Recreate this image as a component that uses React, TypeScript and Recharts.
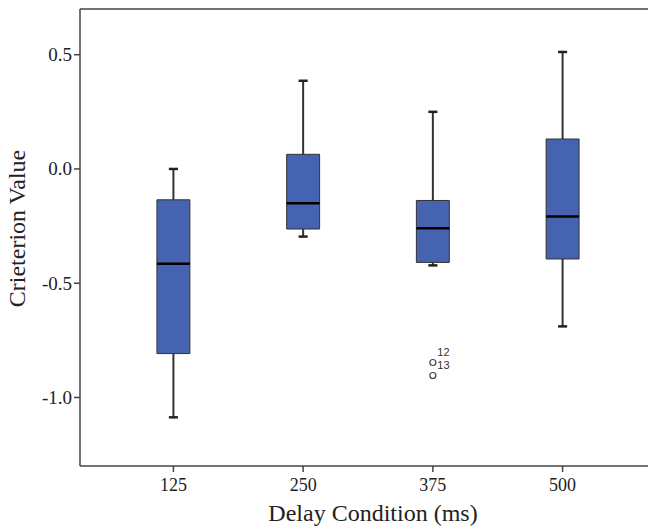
import React from 'react';
import {
  ComposedChart, XAxis, YAxis, Scatter, ReferenceArea, ReferenceLine, Label,
} from 'recharts';

const categories = ['125', '250', '375', '500'];
const whiskerLow = [-1.087, -0.296, -0.422, -0.689];
const q1 = [-0.808, -0.263, -0.409, -0.394];
const median = [-0.415, -0.15, -0.259, -0.208];
const q3 = [-0.135, 0.064, -0.138, 0.131];
const whiskerHigh = [0.0, 0.386, 0.25, 0.512];

const outlierGroup = [2, 2];
const outlierValues = [-0.847, -0.904];
const outlierLabels = ['12', '13'];

const yTicks = [-1.0, -0.5, 0.0, 0.5];

const boxData = categories.map((c, i) => ({ idx: i, name: c }));
const outlierData = outlierValues.map((v, i) => ({ idx: outlierGroup[i], v, label: outlierLabels[i] }));

const FONT = 'Times New Roman, Liberation Serif, DejaVu Serif, serif';
const BOX_HALF = 0.127;
const CAP_HALF = 0.035;
const X_DOMAIN: [number, number] = [-0.72, 3.72];
const Y_DOMAIN: [number, number] = [-1.3, 0.7];

const OutlierShape = (props: any) => {
  const { cx, cy, payload } = props;
  if (cx == null || cy == null) return null;
  const dy = payload.label === '12' ? -6 : -7;
  return (
    <g>
      <circle cx={cx} cy={cy} r={3} fill="#fff" stroke="#444" strokeWidth={1.2} />
      <text x={cx + 4.5} y={cy + dy} fontSize={11} style={{ fontFamily: 'Liberation Sans, Arial, sans-serif' }} fill="#333">
        {payload.label}
      </text>
    </g>
  );
};

const XTick = (props: any) => {
  const { x, y, payload } = props;
  return (
    <text x={x} y={y + 12} textAnchor="middle" fontSize={18} style={{ fontFamily: FONT }} fill="#222">
      {categories[payload.value]}
    </text>
  );
};

const YTick = (props: any) => {
  const { x, y, payload } = props;
  return (
    <text x={x} y={y + 6.5} textAnchor="end" fontSize={19} style={{ fontFamily: FONT }} fill="#222">
      {Number(payload.value).toFixed(1)}
    </text>
  );
};

export default function App() {
  return (
    <div style={{ position: 'fixed', left: 0, top: 0, width: 648, height: 529, overflow: 'hidden', background: '#fff', fontFamily: FONT }}>
      <ComposedChart width={660} height={529} data={boxData} margin={{ top: 9, right: 4, left: 0, bottom: 0 }} style={{ fontFamily: FONT }}>
        <XAxis
          type="number"
          dataKey="idx"
          domain={X_DOMAIN}
          ticks={[0, 1, 2, 3]}
          allowDataOverflow
          height={63}
          tickSize={6}
          tickMargin={7}
          stroke="#444"
          strokeWidth={1.5}
          tick={<XTick />}
        >
          <Label
            content={(p: any) => {
              const vb = p.viewBox;
              return (
                <text x={vb.x + vb.width / 2 + 5} y={521} textAnchor="middle" fontSize={24} style={{ fontFamily: FONT }} fill="#222">
                  Delay Condition (ms)
                </text>
              );
            }}
          />
        </XAxis>
        <YAxis
          type="number"
          domain={Y_DOMAIN}
          ticks={yTicks}
          allowDataOverflow
          width={80}
          tickSize={6}
          tickMargin={2}
          stroke="#444"
          strokeWidth={1.5}
          tick={<YTick />}
        >
          <Label
            content={(p: any) => {
              const vb = p.viewBox;
              const cx = 25;
              const cy = vb.y + vb.height / 2 - 9;
              return (
                <text x={cx} y={cy} textAnchor="middle" fontSize={24} style={{ fontFamily: FONT }} fill="#222" transform={`rotate(-90, ${cx}, ${cy})`}>
                  Crieterion Value
                </text>
              );
            }}
          />
        </YAxis>

        <ReferenceLine segment={[{ x: X_DOMAIN[0], y: Y_DOMAIN[1] }, { x: X_DOMAIN[1], y: Y_DOMAIN[1] }]} stroke="#444" strokeWidth={1.5} ifOverflow="visible" />

        {categories.map((c, i) => (
          <ReferenceLine key={`wh${c}`} segment={[{ x: i, y: q3[i] }, { x: i, y: whiskerHigh[i] }]} stroke="#333" strokeWidth={2} ifOverflow="visible" />
        ))}
        {categories.map((c, i) => (
          <ReferenceLine key={`wl${c}`} segment={[{ x: i, y: q1[i] }, { x: i, y: whiskerLow[i] }]} stroke="#333" strokeWidth={2} ifOverflow="visible" />
        ))}
        {categories.map((c, i) => (
          <ReferenceLine key={`ch${c}`} segment={[{ x: i - CAP_HALF, y: whiskerHigh[i] }, { x: i + CAP_HALF, y: whiskerHigh[i] }]} stroke="#222" strokeWidth={2.5} ifOverflow="visible" />
        ))}
        {categories.map((c, i) => (
          <ReferenceLine key={`cl${c}`} segment={[{ x: i - CAP_HALF, y: whiskerLow[i] }, { x: i + CAP_HALF, y: whiskerLow[i] }]} stroke="#222" strokeWidth={2.5} ifOverflow="visible" />
        ))}
        {categories.map((c, i) => (
          <ReferenceArea key={`b${c}`} x1={i - BOX_HALF} x2={i + BOX_HALF} y1={q1[i]} y2={q3[i]} fill="#4563B0" fillOpacity={1} stroke="#333" strokeWidth={1} ifOverflow="visible" />
        ))}
        {categories.map((c, i) => (
          <ReferenceLine key={`m${c}`} segment={[{ x: i - BOX_HALF, y: median[i] }, { x: i + BOX_HALF, y: median[i] }]} stroke="#000" strokeWidth={2.5} ifOverflow="visible" />
        ))}

        <Scatter data={outlierData} dataKey="v" shape={<OutlierShape />} isAnimationActive={false} />
      </ComposedChart>
    </div>
  );
}
